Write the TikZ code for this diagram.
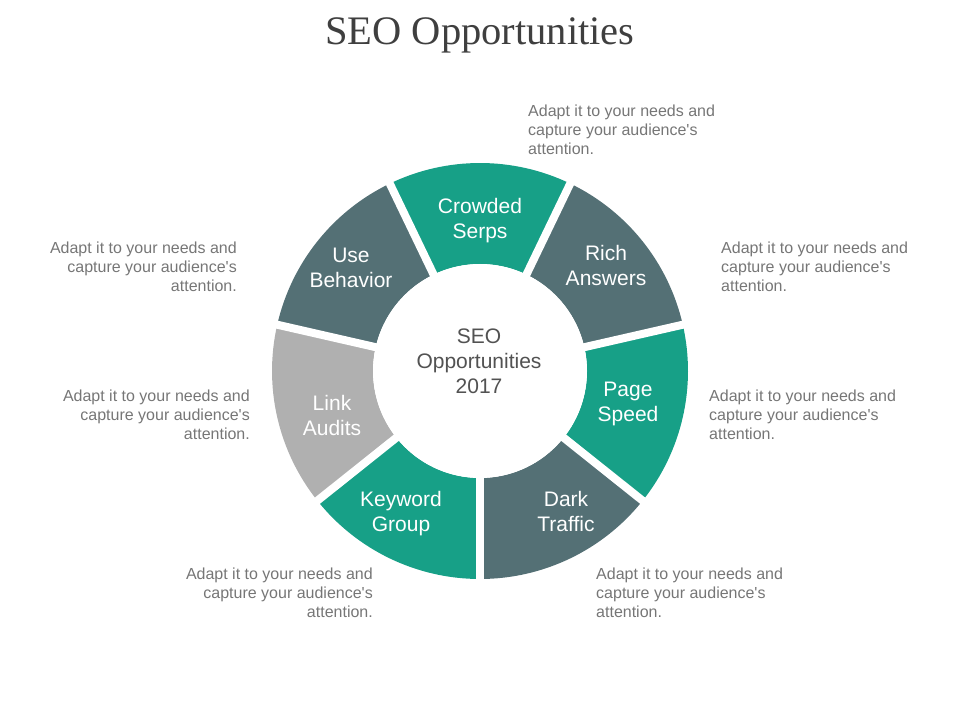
\documentclass[tikz,border=0pt]{standalone}
\usepackage{fontspec}
\setmainfont{Liberation Sans}
\newfontfamily\titlefont{Liberation Serif}
\usepackage{tikz}
\definecolor{segteal}{RGB}{23,160,135}
\definecolor{segslate}{RGB}{84,112,117}
\definecolor{seggray}{RGB}{176,176,176}
\definecolor{desctext}{RGB}{118,118,118}
\definecolor{titletext}{RGB}{63,63,63}
\newcommand{\adapttext}{Adapt it to your needs and\\capture your audience\textquotesingle s\\attention.}
\tikzset{
	desc/.style={font=\fontsize{16}{19}\selectfont,text=desctext,inner sep=0pt},
	seglabel/.style={font=\fontsize{21}{25}\selectfont,text=white,align=center,inner sep=0pt}
}

\begin{document}
\begin{tikzpicture}[x=1pt,y=1pt]
	\useasboundingbox (0,0) rectangle (960,720);
	\coordinate (mid) at (480,349);
	% ring segments
	\foreach \a/\c in {90/segteal,141.43/segslate,192.86/seggray,244.29/segteal,295.71/segslate,347.14/segteal,38.57/segslate}
		\fill[\c] ([shift={(\a-25.71:208)}]mid) arc (\a-25.71:\a+25.71:208) -- ([shift={(\a+25.71:107)}]mid) arc (\a+25.71:\a-25.71:107) -- cycle;
	% white gaps
	\foreach \a in {64.29,115.71,167.14,218.57,270,321.43,12.86}
		\draw[white,line width=8pt] (mid) -- ([shift={(\a:225)}]mid);
	\fill[white] (mid) circle (107);
	\node[font=\titlefont\fontsize{40.5}{44}\selectfont,text=titletext,anchor=base] (title) at (480,675) {SEO Opportunities};
	\node[font=\fontsize{21}{25}\selectfont,text=titletext!90,align=center,inner sep=0pt] (core) at (479,359) {SEO\\Opportunities\\2017};
	\node[seglabel] (serps) at (480,499) {Crowded\\Serps};
	\node[seglabel] (behavior) at (351,452) {Use\\Behavior};
	\node[seglabel] (answers) at (606,455) {Rich\\Answers};
	\node[seglabel] (audits) at (332,305) {Link\\Audits};
	\node[seglabel] (speed) at (628,316) {Page\\Speed};
	\node[seglabel] (keyword) at (401,206) {Keyword\\Group};
	\node[seglabel] (traffic) at (566,209) {Dark\\Traffic};
	% descriptions
	\node[desc,align=left,anchor=west] (dtop) at (528,590) {\adapttext};
	\node[desc,align=left,anchor=west] (dright1) at (721,453) {\adapttext};
	\node[desc,align=left,anchor=west] (dright2) at (709,305) {\adapttext};
	\node[desc,align=left,anchor=west] (dright3) at (596,127) {\adapttext};
	\node[desc,align=right,anchor=east] (dleft1) at (237,453) {\adapttext};
	\node[desc,align=right,anchor=east] (dleft2) at (250,305) {\adapttext};
	\node[desc,align=right,anchor=east] (dleft3) at (373,127) {\adapttext};
\end{tikzpicture}
\end{document}
